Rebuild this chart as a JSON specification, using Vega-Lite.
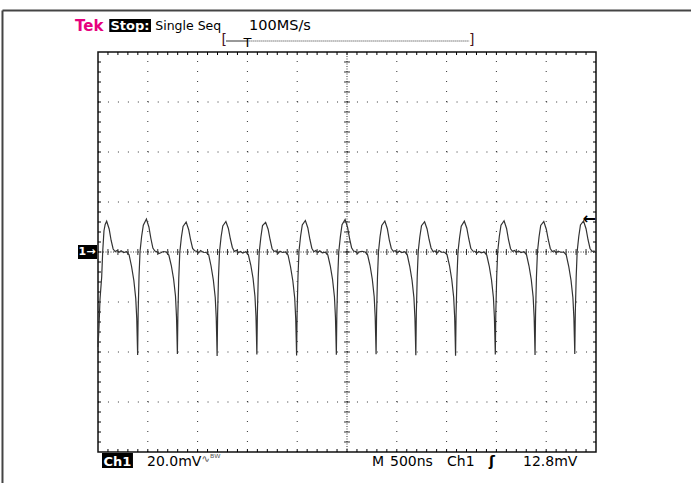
{
"$schema": "https://vega.github.io/schema/vega-lite/v6.json",
"width": 498, "height": 400,
"autosize": {"type": "none"},
"padding": {"left": 98, "top": 52, "right": 95, "bottom": 31},
"background": "white",
"config": {"view": {"stroke": "#111", "strokeWidth": 1.5}, "axis": {"disable": true}, "text": {"font": "DejaVu Sans"}},
"datasets": {
"wave": [
{"t":0,"v":-38},{"t":10,"v":-30},{"t":20,"v":-19},{"t":37,"v":-10},{"t":47,"v":0},{"t":60,"v":8.5},{"t":72,"v":11},
{"t":87,"v":12.3},{"t":112,"v":9.2},{"t":132,"v":4.6},{"t":152,"v":1.2},{"t":172,"v":0.2},{"t":192,"v":0.6},{"t":212,"v":-0.1},{"t":232,"v":0.5},{"t":257,"v":-0.2},{"t":287,"v":0.1},{"t":312,"v":-1.1},{"t":337,"v":-5.8},{"t":360,"v":-11.4},{"t":379,"v":-18.6},{"t":389,"v":-26.5},{"t":394,"v":-34.8},{"t":398,"v":-41.2},{"t":403,"v":-24.6},{"t":412,"v":-9.6},{"t":422,"v":0.2},{"t":438,"v":6.2},{"t":455,"v":10.7},
{"t":486,"v":13.2},{"t":511,"v":10.0},{"t":531,"v":5.4},{"t":551,"v":1.6},{"t":571,"v":0.4},{"t":591,"v":0.1},{"t":611,"v":-0.6},{"t":631,"v":-0.3},{"t":656,"v":0.2},{"t":686,"v":0},{"t":711,"v":-1.2},{"t":736,"v":-5.4},{"t":759,"v":-10.8},{"t":778,"v":-17.6},{"t":788,"v":-25.8},{"t":793,"v":-33.6},{"t":797,"v":-40.8},{"t":802,"v":-25.2},{"t":811,"v":-10.4},{"t":821,"v":-0.2},{"t":837,"v":5.8},{"t":854,"v":10.2},
{"t":885,"v":12.0},{"t":910,"v":9.0},{"t":930,"v":4.8},{"t":950,"v":1.4},{"t":970,"v":0.5},{"t":990,"v":0.3},{"t":1010,"v":-0.4},{"t":1030,"v":0.6},{"t":1055,"v":-0.1},{"t":1085,"v":-0.2},{"t":1110,"v":-0.9},{"t":1135,"v":-5.6},{"t":1158,"v":-11.2},{"t":1177,"v":-18.2},{"t":1187,"v":-26.2},{"t":1192,"v":-34.2},{"t":1196,"v":-41.6},{"t":1201,"v":-24.8},{"t":1210,"v":-9.8},{"t":1220,"v":0.1},{"t":1236,"v":6.1},{"t":1253,"v":10.4},
{"t":1284,"v":12.2},{"t":1309,"v":9.4},{"t":1329,"v":5.2},{"t":1349,"v":1.8},{"t":1369,"v":0.2},{"t":1389,"v":0.7},{"t":1409,"v":-0.3},{"t":1429,"v":0.2},{"t":1454,"v":-0.4},{"t":1484,"v":0.1},{"t":1509,"v":-1.0},{"t":1534,"v":-5.2},{"t":1557,"v":-10.6},{"t":1576,"v":-17.8},{"t":1586,"v":-25.6},{"t":1591,"v":-33.8},{"t":1595,"v":-41.0},{"t":1600,"v":-25.0},{"t":1609,"v":-10.2},{"t":1619,"v":0},{"t":1635,"v":5.9},{"t":1652,"v":10.6},
{"t":1683,"v":11.9},{"t":1708,"v":9.1},{"t":1728,"v":4.9},{"t":1748,"v":1.3},{"t":1768,"v":0.3},{"t":1788,"v":0.4},{"t":1808,"v":-0.5},{"t":1828,"v":0.3},{"t":1853,"v":-0.2},{"t":1883,"v":0},{"t":1908,"v":-1.2},{"t":1933,"v":-5.9},{"t":1956,"v":-11.5},{"t":1975,"v":-18.4},{"t":1985,"v":-26.6},{"t":1990,"v":-34.4},{"t":1994,"v":-41.4},{"t":1999,"v":-24.4},{"t":2008,"v":-9.7},{"t":2018,"v":0.3},{"t":2034,"v":6.3},{"t":2051,"v":10.8},
{"t":2082,"v":12.6},{"t":2107,"v":9.6},{"t":2127,"v":5.1},{"t":2147,"v":1.5},{"t":2167,"v":0.1},{"t":2187,"v":0.6},{"t":2207,"v":-0.2},{"t":2227,"v":0.5},{"t":2252,"v":-0.3},{"t":2282,"v":-0.1},{"t":2307,"v":-1.1},{"t":2332,"v":-5.5},{"t":2355,"v":-11.0},{"t":2374,"v":-18.0},{"t":2384,"v":-26.0},{"t":2389,"v":-34.0},{"t":2393,"v":-41.1},{"t":2398,"v":-25.1},{"t":2407,"v":-10.1},{"t":2417,"v":-0.1},{"t":2433,"v":6.0},{"t":2450,"v":10.9},
{"t":2481,"v":13.0},{"t":2506,"v":9.8},{"t":2526,"v":5.3},{"t":2546,"v":1.7},{"t":2566,"v":0.4},{"t":2586,"v":0.2},{"t":2606,"v":-0.6},{"t":2626,"v":0.1},{"t":2651,"v":0.3},{"t":2681,"v":0},{"t":2706,"v":-1.0},{"t":2731,"v":-5.3},{"t":2754,"v":-10.9},{"t":2773,"v":-17.9},{"t":2783,"v":-25.9},{"t":2788,"v":-33.9},{"t":2792,"v":-40.9},{"t":2797,"v":-24.9},{"t":2806,"v":-10.0},{"t":2816,"v":0.1},{"t":2832,"v":6.2},{"t":2849,"v":10.6},
{"t":2880,"v":12.4},{"t":2905,"v":9.3},{"t":2925,"v":4.7},{"t":2945,"v":1.4},{"t":2965,"v":0.3},{"t":2985,"v":0.5},{"t":3005,"v":-0.3},{"t":3025,"v":0.4},{"t":3050,"v":-0.2},{"t":3080,"v":0.1},{"t":3105,"v":-1.1},{"t":3130,"v":-5.7},{"t":3153,"v":-11.3},{"t":3172,"v":-18.3},{"t":3182,"v":-26.3},{"t":3187,"v":-34.3},{"t":3191,"v":-41.3},{"t":3196,"v":-24.7},{"t":3205,"v":-9.9},{"t":3215,"v":0.2},{"t":3231,"v":6.0},{"t":3248,"v":10.5},
{"t":3279,"v":12.1},{"t":3304,"v":9.2},{"t":3324,"v":5.0},{"t":3344,"v":1.6},{"t":3364,"v":0.2},{"t":3384,"v":0.4},{"t":3404,"v":-0.4},{"t":3424,"v":0.6},{"t":3449,"v":-0.1},{"t":3479,"v":-0.1},{"t":3504,"v":-1.0},{"t":3529,"v":-5.4},{"t":3552,"v":-11.1},{"t":3571,"v":-18.1},{"t":3581,"v":-26.1},{"t":3586,"v":-34.1},{"t":3590,"v":-41.5},{"t":3595,"v":-25.3},{"t":3604,"v":-10.3},{"t":3614,"v":0},{"t":3630,"v":5.7},{"t":3647,"v":10.3},
{"t":3678,"v":12.3},{"t":3703,"v":9.5},{"t":3723,"v":5.2},{"t":3743,"v":1.5},{"t":3763,"v":0.4},{"t":3783,"v":0.3},{"t":3803,"v":-0.5},{"t":3823,"v":0.2},{"t":3848,"v":-0.3},{"t":3878,"v":0},{"t":3903,"v":-1.2},{"t":3928,"v":-5.6},{"t":3951,"v":-11.2},{"t":3970,"v":-18.2},{"t":3980,"v":-26.2},{"t":3985,"v":-34.2},{"t":3989,"v":-41.0},{"t":3994,"v":-24.5},{"t":4003,"v":-9.8},{"t":4013,"v":0.1},{"t":4029,"v":6.1},{"t":4046,"v":10.7},
{"t":4077,"v":12.5},{"t":4102,"v":9.4},{"t":4122,"v":4.8},{"t":4142,"v":1.3},{"t":4162,"v":0.3},{"t":4182,"v":0.6},{"t":4202,"v":-0.2},{"t":4222,"v":0.4},{"t":4247,"v":-0.2},{"t":4277,"v":0.1},{"t":4302,"v":-1.0},{"t":4327,"v":-5.5},{"t":4350,"v":-11.0},{"t":4369,"v":-18.0},{"t":4379,"v":-26.0},{"t":4384,"v":-34.0},{"t":4388,"v":-41.2},{"t":4393,"v":-25.0},{"t":4402,"v":-10.0},{"t":4412,"v":0},{"t":4428,"v":6.0},{"t":4445,"v":10.6},
{"t":4476,"v":12.2},{"t":4501,"v":9.1},{"t":4521,"v":4.9},{"t":4541,"v":1.4},{"t":4561,"v":0.2},{"t":4581,"v":0.5},{"t":4601,"v":-0.4},{"t":4621,"v":0.3},{"t":4646,"v":-0.1},{"t":4676,"v":0},{"t":4701,"v":-1.1},{"t":4726,"v":-5.7},{"t":4749,"v":-11.3},{"t":4768,"v":-18.3},{"t":4778,"v":-26.3},{"t":4783,"v":-34.3},{"t":4787,"v":-40.8},{"t":4792,"v":-24.8},{"t":4801,"v":-10.1},{"t":4811,"v":0.2},{"t":4827,"v":6.2},{"t":4844,"v":10.8},
{"t":4875,"v":12.4},{"t":4900,"v":9.3},{"t":4920,"v":4.9},{"t":4940,"v":1.4},{"t":4960,"v":0.3},{"t":4980,"v":0.4},{"t":5000,"v":0.0}
],
"xm": [{"t":100},{"t":200},{"t":300},{"t":400},{"t":500},{"t":600},{"t":700},{"t":800},{"t":900},{"t":1000},{"t":1100},{"t":1200},{"t":1300},{"t":1400},{"t":1500},{"t":1600},{"t":1700},{"t":1800},{"t":1900},{"t":2000},{"t":2100},{"t":2200},{"t":2300},{"t":2400},{"t":2500},{"t":2600},{"t":2700},{"t":2800},{"t":2900},{"t":3000},{"t":3100},{"t":3200},{"t":3300},{"t":3400},{"t":3500},{"t":3600},{"t":3700},{"t":3800},{"t":3900},{"t":4000},{"t":4100},{"t":4200},{"t":4300},{"t":4400},{"t":4500},{"t":4600},{"t":4700},{"t":4800},{"t":4900}],
"ym": [{"v":-76},{"v":-72},{"v":-68},{"v":-64},{"v":-60},{"v":-56},{"v":-52},{"v":-48},{"v":-44},{"v":-40},{"v":-36},{"v":-32},{"v":-28},{"v":-24},{"v":-20},{"v":-16},{"v":-12},{"v":-8},{"v":-4},{"v":0},{"v":4},{"v":8},{"v":12},{"v":16},{"v":20},{"v":24},{"v":28},{"v":32},{"v":36},{"v":40},{"v":44},{"v":48},{"v":52},{"v":56},{"v":60},{"v":64},{"v":68},{"v":72},{"v":76}],
"xmaj": [{"t":500},{"t":1000},{"t":1500},{"t":2000},{"t":3000},{"t":3500},{"t":4000},{"t":4500}],
"ymaj": [{"v":-60},{"v":-40},{"v":-20},{"v":20},{"v":40},{"v":60}],
"one": [{}]
},
"layer": [
{"data": {"name": "one"}, "mark": {"type": "rule", "color": "#444", "strokeWidth": 2},
 "encoding": {"x": {"datum": -959, "type": "quantitative"}, "x2": {"datum": 5964}, "y": {"datum": 96.6, "type": "quantitative"}}},
{"data": {"name": "one"}, "mark": {"type": "rule", "color": "#444", "strokeWidth": 2},
 "encoding": {"x": {"datum": -959, "type": "quantitative"}, "y": {"datum": 96.6, "type": "quantitative"}, "y2": {"datum": -96}}},
{"data": {"name": "xmaj"}, "mark": {"type": "rule", "color": "#000", "strokeWidth": 1, "strokeDash": [1, 9], "opacity": 0.8},
 "encoding": {"x": {"field": "t", "type": "quantitative", "scale": {"domain": [0, 5000], "nice": false, "zero": false}}, "y": {"datum": -80, "type": "quantitative"}, "y2": {"datum": 80}}},
{"data": {"name": "ymaj"}, "mark": {"type": "rule", "color": "#000", "strokeWidth": 1, "strokeDash": [1, 8.96], "opacity": 0.8},
 "encoding": {"y": {"field": "v", "type": "quantitative", "scale": {"domain": [-80, 80], "nice": false, "zero": false}}, "x": {"datum": 0, "type": "quantitative"}, "x2": {"datum": 5000}}},
{"data": {"name": "one"}, "mark": {"type": "rule", "color": "#000", "strokeWidth": 1, "strokeDash": [1, 1.5], "opacity": 0.8},
 "encoding": {"x": {"datum": 2500, "type": "quantitative"}, "y": {"datum": -80, "type": "quantitative"}, "y2": {"datum": 80}}},
{"data": {"name": "one"}, "mark": {"type": "rule", "color": "#000", "strokeWidth": 1, "strokeDash": [1, 1.5], "opacity": 0.8},
 "encoding": {"y": {"datum": 0, "type": "quantitative"}, "x": {"datum": 0, "type": "quantitative"}, "x2": {"datum": 5000}}},
{"data": {"name": "xm"}, "mark": {"type": "rule", "color": "#000", "strokeWidth": 1},
 "encoding": {"x": {"field": "t", "type": "quantitative"}, "y": {"datum": 80, "type": "quantitative"}, "y2": {"datum": 78.8}}},
{"data": {"name": "xm"}, "mark": {"type": "rule", "color": "#000", "strokeWidth": 1},
 "encoding": {"x": {"field": "t", "type": "quantitative"}, "y": {"datum": -80, "type": "quantitative"}, "y2": {"datum": -78.8}}},
{"data": {"name": "xm"}, "mark": {"type": "rule", "color": "#000", "strokeWidth": 1, "opacity": 0.8},
 "encoding": {"x": {"field": "t", "type": "quantitative"}, "y": {"datum": -1.2, "type": "quantitative"}, "y2": {"datum": 1.2}}},
{"data": {"name": "ym"}, "mark": {"type": "rule", "color": "#000", "strokeWidth": 1},
 "encoding": {"y": {"field": "v", "type": "quantitative"}, "x": {"datum": 0, "type": "quantitative"}, "x2": {"datum": 30}}},
{"data": {"name": "ym"}, "mark": {"type": "rule", "color": "#000", "strokeWidth": 1},
 "encoding": {"y": {"field": "v", "type": "quantitative"}, "x": {"datum": 5000, "type": "quantitative"}, "x2": {"datum": 4970}}},
{"data": {"name": "ym"}, "mark": {"type": "rule", "color": "#000", "strokeWidth": 1, "opacity": 0.8},
 "encoding": {"y": {"field": "v", "type": "quantitative"}, "x": {"datum": 2470, "type": "quantitative"}, "x2": {"datum": 2530}}},
{"data": {"name": "wave"}, "mark": {"type": "line", "color": "#333", "strokeWidth": 1.2},
 "encoding": {"x": {"field": "t", "type": "quantitative", "scale": {"domain": [0, 5000], "nice": false, "zero": false}}, "y": {"field": "v", "type": "quantitative", "scale": {"domain": [-80, 80], "nice": false, "zero": false}}}},
{"data": {"name": "one"}, "mark": {"type": "text", "font": "DejaVu Sans", "fontWeight": "bold", "fontSize": 15, "color": "#e6007e", "align": "left", "baseline": "alphabetic"},
 "encoding": {"x": {"datum": -231, "type": "quantitative"}, "y": {"datum": 88.6, "type": "quantitative"}, "text": {"value": "Tek"}}},
{"data": {"name": "one"}, "mark": {"type": "rect", "color": "#000"},
 "encoding": {"x": {"datum": 113, "type": "quantitative"}, "x2": {"datum": 532}, "y": {"datum": 93.2, "type": "quantitative"}, "y2": {"datum": 88}}},
{"data": {"name": "one"}, "mark": {"type": "text", "fontWeight": "bold", "fontSize": 13, "color": "#fff", "align": "left", "baseline": "alphabetic"},
 "encoding": {"x": {"datum": 125, "type": "quantitative"}, "y": {"datum": 88.8, "type": "quantitative"}, "text": {"value": "Stop:"}}},
{"data": {"name": "one"}, "mark": {"type": "text", "fontSize": 12.5, "color": "#000", "align": "left", "baseline": "alphabetic"},
 "encoding": {"x": {"datum": 575, "type": "quantitative"}, "y": {"datum": 88.8, "type": "quantitative"}, "text": {"value": "Single Seq"}}},
{"data": {"name": "one"}, "mark": {"type": "text", "fontSize": 14.5, "color": "#000", "align": "left", "baseline": "alphabetic"},
 "encoding": {"x": {"datum": 1516, "type": "quantitative"}, "y": {"datum": 88.8, "type": "quantitative"}, "text": {"value": "100MS/s"}}},
{"data": {"name": "one"}, "mark": {"type": "text", "fontSize": 14, "color": "#4a1020", "align": "left", "baseline": "alphabetic"},
 "encoding": {"x": {"datum": 1240, "type": "quantitative"}, "y": {"datum": 83.2, "type": "quantitative"}, "text": {"value": "["}}},
{"data": {"name": "one"}, "mark": {"type": "text", "fontSize": 14, "color": "#4a1020", "align": "right", "baseline": "alphabetic"},
 "encoding": {"x": {"datum": 3780, "type": "quantitative"}, "y": {"datum": 83.2, "type": "quantitative"}, "text": {"value": "]"}}},
{"data": {"name": "one"}, "mark": {"type": "rule", "color": "#333", "strokeWidth": 1},
 "encoding": {"x": {"datum": 1285, "type": "quantitative"}, "x2": {"datum": 1500}, "y": {"datum": 84.4, "type": "quantitative"}}},
{"data": {"name": "one"}, "mark": {"type": "rule", "color": "#333", "strokeWidth": 1, "strokeDash": [1, 1]},
 "encoding": {"x": {"datum": 1500, "type": "quantitative"}, "x2": {"datum": 3730}, "y": {"datum": 84.4, "type": "quantitative"}}},
{"data": {"name": "one"}, "mark": {"type": "text", "fontSize": 13, "color": "#000", "align": "center", "baseline": "alphabetic"},
 "encoding": {"x": {"datum": 1501, "type": "quantitative"}, "y": {"datum": 82, "type": "quantitative"}, "text": {"value": "T"}}},
{"data": {"name": "one"}, "mark": {"type": "rect", "color": "#000"},
 "encoding": {"x": {"datum": -201, "type": "quantitative"}, "x2": {"datum": -10}, "y": {"datum": 2.8, "type": "quantitative"}, "y2": {"datum": -2.8}}},
{"data": {"name": "one"}, "mark": {"type": "text", "fontWeight": "bold", "fontSize": 11, "color": "#fff", "align": "left", "baseline": "middle"},
 "encoding": {"x": {"datum": -196, "type": "quantitative"}, "y": {"datum": 0, "type": "quantitative"}, "text": {"value": "1→"}}},
{"data": {"name": "one"}, "mark": {"type": "text", "fontWeight": "bold", "fontSize": 16, "color": "#000", "align": "right", "baseline": "middle"},
 "encoding": {"x": {"datum": 5000, "type": "quantitative"}, "y": {"datum": 13.4, "type": "quantitative"}, "text": {"value": "←"}}},
{"data": {"name": "one"}, "mark": {"type": "rect", "color": "#000"},
 "encoding": {"x": {"datum": 40, "type": "quantitative"}, "x2": {"datum": 351}, "y": {"datum": -80.4, "type": "quantitative"}, "y2": {"datum": -86.4}}},
{"data": {"name": "one"}, "mark": {"type": "text", "fontWeight": "bold", "fontSize": 13, "color": "#fff", "align": "left", "baseline": "alphabetic"},
 "encoding": {"x": {"datum": 55, "type": "quantitative"}, "y": {"datum": -85.4, "type": "quantitative"}, "text": {"value": "Ch1"}}},
{"data": {"name": "one"}, "mark": {"type": "text", "fontSize": 14, "color": "#000", "align": "left", "baseline": "alphabetic"},
 "encoding": {"x": {"datum": 492, "type": "quantitative"}, "y": {"datum": -85.4, "type": "quantitative"}, "text": {"value": "20.0mV"}}},
{"data": {"name": "one"}, "mark": {"type": "text", "fontSize": 10, "color": "#555", "align": "left", "baseline": "alphabetic"},
 "encoding": {"x": {"datum": 1040, "type": "quantitative"}, "y": {"datum": -84, "type": "quantitative"}, "text": {"value": "∿ᴮᵂ"}}},
{"data": {"name": "one"}, "mark": {"type": "text", "fontSize": 14, "color": "#000", "align": "left", "baseline": "alphabetic"},
 "encoding": {"x": {"datum": 2751, "type": "quantitative"}, "y": {"datum": -85.4, "type": "quantitative"}, "text": {"value": "M"}}},
{"data": {"name": "one"}, "mark": {"type": "text", "fontSize": 14, "color": "#000", "align": "left", "baseline": "alphabetic"},
 "encoding": {"x": {"datum": 2932, "type": "quantitative"}, "y": {"datum": -85.4, "type": "quantitative"}, "text": {"value": "500ns"}}},
{"data": {"name": "one"}, "mark": {"type": "text", "fontSize": 14, "color": "#000", "align": "left", "baseline": "alphabetic"},
 "encoding": {"x": {"datum": 3504, "type": "quantitative"}, "y": {"datum": -85.4, "type": "quantitative"}, "text": {"value": "Ch1"}}},
{"data": {"name": "one"}, "mark": {"type": "text", "fontSize": 14, "fontWeight": "bold", "color": "#000", "align": "left", "baseline": "alphabetic"},
 "encoding": {"x": {"datum": 3926, "type": "quantitative"}, "y": {"datum": -85.4, "type": "quantitative"}, "text": {"value": "ʃ"}}},
{"data": {"name": "one"}, "mark": {"type": "text", "fontSize": 14, "color": "#000", "align": "left", "baseline": "alphabetic"},
 "encoding": {"x": {"datum": 4267, "type": "quantitative"}, "y": {"datum": -85.4, "type": "quantitative"}, "text": {"value": "12.8mV"}}}
]
}
